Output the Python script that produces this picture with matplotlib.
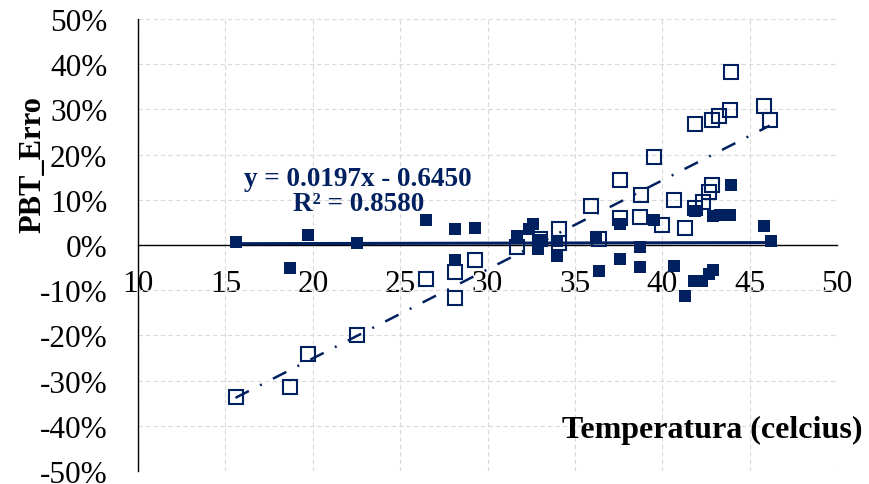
import numpy as np
import matplotlib
matplotlib.use("Agg")
import matplotlib.pyplot as plt
from matplotlib.ticker import PercentFormatter

plt.rcParams['font.family'] = ['Liberation Serif', 'DejaVu Serif']
plt.rcParams['axes.unicode_minus'] = False

NAVY = '#002060'

# PBT error vs temperature (open = uncorrected, filled = corrected)
temp_open = [15.58, 18.72, 19.75, 22.56, 26.5, 28.16, 28.16, 29.3, 31.7, 33.0,
             34.1, 34.1, 35.9, 36.4, 37.6, 37.6, 38.75, 38.8, 39.5, 40.0,
             40.65, 41.3, 41.9, 41.9, 42.35, 42.65, 42.85, 42.85, 43.27, 43.85,
             43.95, 45.8, 46.15]
err_open = [-33.6, -31.4, -24.1, -19.9, -7.5, -6.0, -11.7, -3.3, -0.4, 1.3,
            3.5, 0.5, 8.6, 1.3, 14.3, 6.0, 6.2, 11.1, 19.5, 4.4,
            10.0, 3.8, 26.8, 8.2, 9.5, 11.7, 13.3, 27.7, 28.5, 29.9,
            38.3, 30.7, 27.7]

temp_fill = [15.58, 18.72, 19.75, 22.56, 26.5, 28.16, 28.16, 29.3, 31.7, 32.4,
             32.6, 32.9, 33.0, 34.0, 34.0, 36.2, 36.4, 37.6, 37.6, 38.75,
             38.75, 39.5, 40.65, 41.3, 41.8, 42.3, 42.65, 42.9, 41.9, 42.9,
             43.3, 43.9, 43.95, 45.8, 46.2]
err_fill = [0.7, -5.1, 2.2, 0.4, 5.5, 3.5, -3.3, 3.8, 2.0, 3.6,
            4.6, -0.9, 1.0, -2.4, 0.8, 1.8, -5.8, 4.6, -3.1, -0.4,
            -4.9, 5.5, -4.6, -11.3, -8.0, -8.0, -6.4, -5.5, 7.5, 6.4,
            6.6, 6.6, 13.3, 4.2, 0.9]

# trendline of the open series, as printed on the chart
slope, intercept = 0.0197, -0.6450
r2 = 0.8580

x_ticks = [10, 15, 20, 25, 30, 35, 40, 45, 50]
y_ticks = [-50, -40, -30, -20, -10, 0, 10, 20, 30, 40, 50]

fig = plt.figure(figsize=(8.69, 4.85), dpi=100)
ax = fig.add_axes([138 / 869, 1 - 472 / 485, 699 / 869, 452 / 485])

to = np.array(temp_open)
eo = np.array(err_open) / 100
tf = np.array(temp_fill)
ef = np.array(err_fill) / 100

ax.plot(to, eo, 's', ms=9.5, mfc='none', mec=NAVY, mew=1.5, zorder=3)

xs = np.array([to.min(), to.max()])
ax.plot(xs, slope * xs + intercept, color=NAVY, lw=1.8,
        linestyle=(0, (6, 5, 0.8, 5)), zorder=4)

ax.plot(tf, ef, 's', ms=9.3, color=NAVY, mew=0, zorder=5)
b1, b0 = np.polyfit(tf, ef, 1)
xf = np.array([tf.min(), tf.max()])
ax.plot(xf, b1 * xf + b0, color=NAVY, lw=2.2, zorder=5)

ax.set_xlim(10, 50)
ax.set_ylim(-0.5, 0.5)
ax.set_xticks(x_ticks)
ax.set_yticks([v / 100 for v in y_ticks])
ax.yaxis.set_major_formatter(PercentFormatter(1.0, decimals=0))
ax.grid(True, color='#d9d9d9', lw=0.8, linestyle=(0, (4, 2.7)))
ax.set_axisbelow(True)

for s in ['top', 'right']:
    ax.spines[s].set_visible(False)
ax.spines['bottom'].set_position(('data', 0))
ax.spines['bottom'].set_zorder(2)
ax.spines['left'].set_linewidth(1.0)
ax.spines['bottom'].set_linewidth(1.0)
ax.tick_params(axis='both', length=0, labelsize=22.5)
ax.tick_params(axis='y', pad=22)
ax.tick_params(axis='x', pad=17)

ax.text(22.6, 0.12, f"y = {slope:.4f}x - {abs(intercept):.4f}\nR² = {r2:.4f}",
        ha='center', va='center', fontsize=19.5, fontweight='bold',
        color=NAVY, linespacing=1.0, zorder=6)

fig.text(33 / 869, 1 - 165 / 485, 'PBT_Erro', rotation=90, ha='center',
         va='center', fontsize=22, fontweight='bold')
fig.text(862 / 869, 1 - 430 / 485, 'Temperatura (celcius)', ha='right',
         va='center', fontsize=23, fontweight='bold')

fig.savefig('out.png', dpi=100)
